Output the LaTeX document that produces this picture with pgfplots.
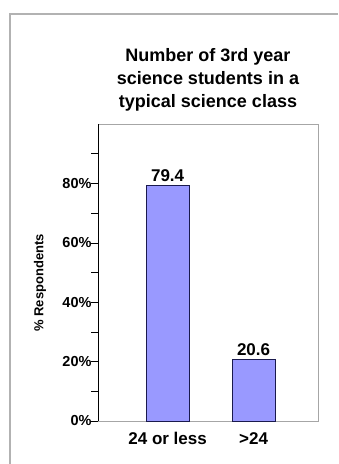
\documentclass[border=0pt]{standalone}
\usepackage{pgfplots}
\pgfplotsset{compat=1.18}
\usepackage{fontspec}
\setmainfont{Liberation Sans}
\definecolor{barfill}{HTML}{9999FF}
\definecolor{baredge}{HTML}{1A1A4D}
\begin{document}
\begin{tikzpicture}[x=1pt,y=1pt]
\useasboundingbox (0,0) rectangle (338,464);
\draw[gray!60, line width=1.5pt] (10,0) -- (10,450) -- (338,450);
\node[font=\bfseries\fontsize{18}{23}\selectfont, align=center] at (208,384) {Number of 3rd year\\science students in a\\typical science class};
\node[font=\bfseries\fontsize{13}{15}\selectfont, rotate=90] at (40,181) {\% Respondents};
\begin{axis}[
  at={(98pt,43pt)}, anchor=south west,
  scale only axis, width=220pt, height=297pt,
  ymin=0, ymax=100, xmin=-0.81, xmax=1.75,
  ybar, bar width=43pt,
  axis line style={gray!70},
  ytick={0,20,40,60,80},
  yticklabels={0\%,20\%,40\%,60\%,80\%},
  minor ytick={10,30,50,70,90},
  ytick pos=left,
  tick align=outside,
  major tick length=7pt, minor tick length=7pt,
  every tick/.style={black},
  xtick=data, xticklabels={24 or less,>24},
  x tick style={draw=none},
  yticklabel style={font=\bfseries\fontsize{14.5}{16}\selectfont, xshift=4pt},
  xticklabel style={font=\bfseries\fontsize{17}{19}\selectfont, yshift=-1pt},
  nodes near coords,
  nodes near coords style={font=\bfseries\fontsize{17}{19}\selectfont, /pgf/number format/fixed, /pgf/number format/precision=1, /pgf/number format/fixed zerofill, /pgf/number format/assume math mode=true},
  clip=false,
]
\addplot[fill=barfill, draw=baredge, line width=0.8pt] coordinates {(0,79.4) (1,20.6)};
\draw[black, line width=0.8pt] (rel axis cs:0,0) -- (rel axis cs:0,1);
\end{axis}
\end{tikzpicture}
\end{document}
